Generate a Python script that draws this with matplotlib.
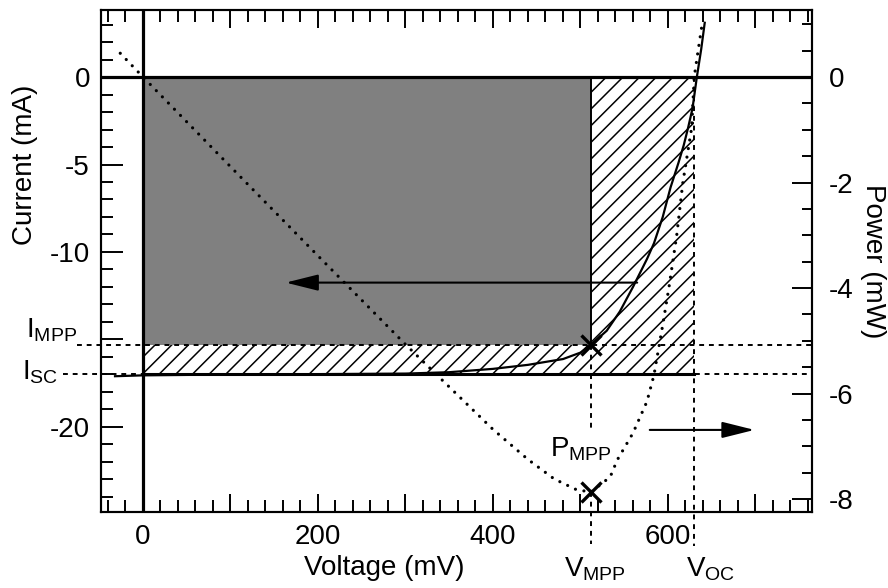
import numpy as np
import matplotlib
matplotlib.use("Agg")
import matplotlib.pyplot as plt
from matplotlib.patches import Rectangle, FancyArrowPatch

plt.rcParams["font.family"] = ["Liberation Sans", "DejaVu Sans"]
plt.rcParams["mathtext.fontset"] = "custom"
plt.rcParams["mathtext.rm"] = "Liberation Sans"
plt.rcParams["mathtext.it"] = "Liberation Sans"
plt.rcParams["axes.unicode_minus"] = False
plt.rcParams["hatch.linewidth"] = 1.1

# I-V curve (mV, mA)
v_iv = [-32, 0, 100, 200, 300, 350, 400, 440, 470, 480, 500, 512, 530, 545,
        560, 576, 584, 594, 603, 612, 618, 623, 628, 633, 638, 642]
i_iv = [-17.1, -17.05, -17.0, -16.98, -16.95, -16.87, -16.68, -16.45, -16.2,
        -16.12, -15.75, -15.3, -14.5, -13.4, -12.0, -10.4, -9.5, -8.0, -6.3,
        -4.9, -3.9, -2.9, -1.8, 0.0, 1.6, 3.1]

# power curve (mV, mW)
v_p = [-26, 0, 100, 200, 300, 400, 440, 470, 495, 512, 534, 542, 560, 576,
       584, 594, 601, 610, 617, 627, 630, 634, 639]
p_p = [0.45, 0.0, -1.70, -3.39, -5.07, -6.68, -7.25, -7.62, -7.82, -7.87,
       -7.58, -7.26, -6.75, -6.15, -5.65, -4.7, -4.0, -3.0, -2.0, -0.97,
       0.0, 0.45, 1.0]

# characteristic points
v_mpp = 512
v_oc = 630
i_mpp = -15.3
i_sc = -17.0
p_mpp = -7.87

x_ticks = [0, 100, 200, 300, 400, 500, 600, 700]
x_labels = ["0", "", "200", "", "400", "", "600", ""]
y_ticks = [0, -5, -10, -15, -20]
y_labels = ["0", "-5", "-10", "", "-20"]
p_ticks = [0, -2, -4, -6, -8]
p_labels = ["0", "-2", "-4", "-6", "-8"]

fig = plt.figure(figsize=(8.88, 5.88), dpi=100)
ax = fig.add_axes([101 / 888, 1 - 512 / 588, 711 / 888, 502 / 588])
ax.set_xlim(-48, 764.6)
ax.set_ylim(-24.86, 3.83)

# shaded areas
ax.add_patch(Rectangle((0, i_sc), v_oc, -i_sc, facecolor="white",
                       edgecolor="black", hatch="//", linewidth=0, zorder=1))
ax.add_patch(Rectangle((0, i_mpp), v_mpp, -i_mpp, facecolor="#808080",
                       edgecolor="none", linewidth=0, zorder=2))

dash = (0, (2.5, 2.5))
ax.plot([-75, 764.6], [i_mpp, i_mpp], color="black", lw=1.4, ls=dash,
        clip_on=False, zorder=3)
ax.plot([-91, 764.6], [i_sc, i_sc], color="black", lw=1.4, ls=dash,
        clip_on=False, zorder=3)
ax.plot([v_mpp, v_mpp], [0, i_mpp], color="black", lw=1.4, zorder=3)
ax.plot([v_mpp, v_mpp], [i_mpp, -20.3], color="black", lw=1.4, ls=dash,
        zorder=3)
ax.plot([v_oc, v_oc], [0, -26.8], color="black", lw=1.4, ls=dash,
        clip_on=False, zorder=3)
ax.plot([0, v_oc], [i_sc, i_sc], color="black", lw=2.2, zorder=4)

ax.axhline(0, color="black", lw=2.3, zorder=5)
ax.axvline(0, color="black", lw=2.3, zorder=5)

ax.plot(v_iv, i_iv, color="black", lw=1.6, zorder=6)
ax.plot([v_mpp], [i_mpp], marker="x", ms=14, mew=2.4, color="black",
        zorder=7)

ax.add_patch(FancyArrowPatch((568, -11.75), (160, -11.75),
                             arrowstyle="-|>,head_length=1.0,head_width=0.25",
                             mutation_scale=20, lw=1.5, color="black",
                             zorder=6))

ax.set_xticks(x_ticks)
ax.set_xticklabels(x_labels)
ax.set_xticks(np.arange(-40, 761, 20), minor=True)
ax.set_yticks(y_ticks)
ax.set_yticklabels(y_labels)
ax.set_yticks(np.arange(-24, 4, 1), minor=True)
ax.tick_params(axis="x", which="both", direction="in", top=True,
               bottom=True, width=1.4, labelsize=20, pad=9)
ax.tick_params(axis="x", which="major", length=13)
ax.tick_params(axis="x", which="minor", length=8.5)
ax.tick_params(axis="y", which="both", direction="in", left=True,
               right=False, width=1.4, labelsize=20, pad=8)
ax.tick_params(axis="y", which="major", length=16)
ax.tick_params(axis="y", which="minor", length=8.5)
for s in ax.spines.values():
    s.set_linewidth(1.5)

ax2 = ax.twinx()
ax2.set_ylim(-8.246, 1.27)
ax2.plot(v_p, p_p, color="black", lw=2.3, ls=(0, (0.01, 2.7)),
         dash_capstyle="round", zorder=6)
ax2.plot([v_mpp], [p_mpp], marker="x", ms=14, mew=2.4, color="black",
         zorder=7)
ax2.plot([v_mpp, v_mpp], [p_mpp, -8.86], color="black", lw=1.4, ls=dash,
         clip_on=False)
ax2.add_patch(FancyArrowPatch((576, -6.69), (702, -6.69),
                              arrowstyle="-|>,head_length=1.0,head_width=0.25",
                              mutation_scale=20, lw=1.5, color="black",
                              zorder=6))
ax2.set_yticks(p_ticks)
ax2.set_yticklabels(p_labels)
ax2.set_yticks(np.arange(-8, 1.1, 0.5), minor=True)
ax2.tick_params(axis="y", which="both", direction="in", right=True,
                width=1.4, labelsize=20, pad=12)
ax2.tick_params(axis="y", which="major", length=14.5)
ax2.tick_params(axis="y", which="minor", length=7.5)
for s in ax2.spines.values():
    s.set_linewidth(1.5)

# annotations
ax2.text(500, -7.2, r"$\mathrm{P_{MPP}}$", fontsize=20, ha="center",
         va="baseline")
ax.text(-75, -14.9, r"$\mathrm{I_{MPP}}$", fontsize=20, ha="right",
        va="baseline", clip_on=False)
ax.text(-97, -17.3, r"$\mathrm{I_{SC}}$", fontsize=20, ha="right",
        va="baseline", clip_on=False)
ax.text(517, -28.57, r"$\mathrm{V_{MPP}}$", fontsize=20, ha="center",
        va="baseline", clip_on=False)
ax.text(649, -28.57, r"$\mathrm{V_{OC}}$", fontsize=20, ha="center",
        va="baseline", clip_on=False)

fig.text(384 / 888, 1 - 568 / 588, "Voltage (mV)", fontsize=20,
         ha="center", va="center")
fig.text(25 / 888, 1 - 165 / 588, "Current (mA)", fontsize=20,
         ha="center", va="center", rotation=90)
fig.text(873 / 888, 1 - 261 / 588, "Power (mW)", fontsize=20,
         ha="center", va="center", rotation=270)

fig.savefig("out.png", dpi=100)
